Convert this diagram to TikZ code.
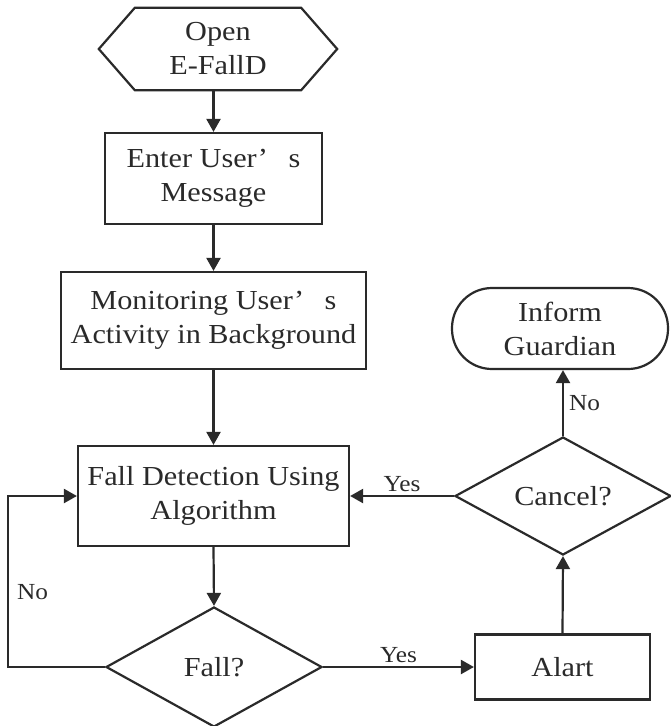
\documentclass[tikz,border=0pt]{standalone}
\usepackage{fontspec}
\setmainfont{Liberation Serif}[FakeStretch=1.1]
\usetikzlibrary{arrows.meta,shapes.geometric,calc}
\definecolor{ink}{HTML}{2A2A2A}
\begin{document}
\begin{tikzpicture}[x=1pt,y=-1pt,
  every node/.style={text=ink},
  line/.style={draw=ink,line width=2.2pt},
  arr/.style={line,-{Triangle[length=13pt,width=14pt]}},
  txt/.style={font=\fontsize{27.5}{34}\selectfont,align=center},
  lbl/.style={font=\fontsize{23}{27}\selectfont,inner sep=2pt},
  procbox/.style={txt,line,rectangle,inner sep=0pt},
  decision/.style={txt,line,diamond,inner sep=0pt,shape aspect=1.8},
  terminal/.style={txt,line,rectangle,rounded corners=40pt,inner sep=0pt}]
\useasboundingbox (0,0) rectangle (670,726);
\fill[white] (0,0) rectangle (670,726);

% start: hexagon drawn around an invisible node
\node[txt,minimum width=238pt,minimum height=82pt,inner sep=0pt] (open) at (218,49) {Open\\E-FallD};
\draw[line,line join=miter] (open.west) -- ([xshift=36pt]open.north west) -- ([xshift=-36pt]open.north east)
  -- (open.east) -- ([xshift=-36pt]open.south east) -- ([xshift=36pt]open.south west) -- cycle;

% process steps
\node[procbox,minimum width=217pt,minimum height=91pt] (enter) at (213.5,178.5) {Enter User’\hspace{0.75em}s\\Message};
\node[procbox,minimum width=305pt,minimum height=97pt] (monitor) at (213.5,320.5) {Monitoring User’\hspace{0.75em}s\\Activity in Background};
\node[procbox,minimum width=271pt,minimum height=100pt] (detect) at (213.5,496) {Fall Detection Using\\Algorithm};
\node[decision,minimum width=216pt,minimum height=120pt] (fall) at (214,667) {Fall?};
\node[procbox,minimum width=175pt,minimum height=65pt] (alart) at (562.5,667) {Alart};
\node[decision,minimum width=216pt,minimum height=118pt] (cancel) at (563,496) {Cancel?};
\node[terminal,minimum width=216pt,minimum height=81pt] (inform) at (560,328.5) {Inform\\Guardian};

% connectors
\coordinate (loopx) at (8,667);
\draw[arr] (open.south -| enter.north) -- (enter.north);
\draw[arr] (enter.south) -- (monitor.north);
\draw[arr] (monitor.south) -- (detect.north);
\draw[arr] (detect.south) -- (fall.north);
\draw[arr] (fall.west) -- (loopx) |- node[lbl,pos=0.22,right=6pt] {No} (detect.west);
\draw[arr] (fall.east) -- node[lbl,midway,above=1pt] {Yes} (alart.west);
\draw[arr] (alart.north) -- (cancel.south);
\draw[arr] (cancel.west) -- node[lbl,midway,above=1pt] {Yes} (detect.east);
\draw[arr] (cancel.north) -- node[lbl,midway,right=3pt] {No} (cancel.north |- inform.south);
\end{tikzpicture}
\end{document}
